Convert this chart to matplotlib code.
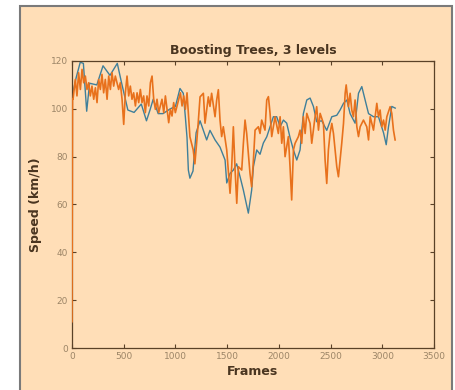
import matplotlib
matplotlib.use("Agg")
import matplotlib.pyplot as plt
from matplotlib.patches import Rectangle

# Ground truth (blue)
gt_frames = [0, 10, 40, 80, 110, 142, 170, 240, 300, 367, 438, 480, 540, 600, 670, 720, 754, 785,
             833, 880, 950, 1000, 1044, 1076, 1096, 1112, 1125, 1140, 1170, 1186, 1200, 1238, 1302,
             1334, 1383, 1431, 1480, 1496, 1528, 1560, 1592, 1625, 1657, 1705, 1737, 1754, 1786,
             1818, 1850, 1883, 1915, 1947, 1979, 2012, 2044, 2076, 2108, 2141, 2173, 2205, 2237,
             2270, 2302, 2334, 2366, 2415, 2463, 2512, 2560, 2592, 2625, 2657, 2689, 2737, 2770,
             2802, 2834, 2867, 2915, 2963, 3012, 3038, 3060, 3092, 3125]
gt_speed = [104, 107, 113, 119.5, 119, 99, 110.7, 110, 118, 114, 119, 110.7, 99.5, 98.5, 102, 95,
            99.5, 104, 98, 98, 100, 101, 108.5, 106.5, 96.6, 88, 74.4, 71, 74, 82.8, 90, 95, 87,
            91, 87, 84, 78.6, 69, 73, 74.4, 77, 71.6, 66, 56.4, 66, 75.8, 82.8, 81, 85.7, 88.3,
            92.5, 96.7, 96.7, 92.5, 95.3, 94, 88, 82.8, 78.6, 82.8, 98, 103.7, 104.5, 101, 94.6,
            95, 91, 96.7, 97.3, 99.5, 102.3, 103.7, 98, 94, 106.5, 109.3, 103.7, 98, 96.7, 96.7,
            90, 85, 92.5, 101, 100.3]

# Prediction (orange)
pred_frames = [0, 5, 10, 32, 48, 64, 81, 97, 113, 129, 145, 161, 177, 193, 210, 226, 242, 258,
               274, 290, 306, 322, 339, 355, 371, 387, 403, 419, 451, 467, 484, 500, 516, 532,
               548, 564, 580, 596, 613, 629, 645, 661, 677, 693, 709, 725, 742, 758, 774, 790,
               806, 822, 838, 854, 870, 887, 903, 919, 935, 951, 967, 983, 999, 1016, 1032, 1048,
               1064, 1080, 1096, 1112,
               1140, 1172, 1188, 1205, 1220, 1238, 1270, 1286, 1318, 1334, 1350, 1383, 1399,
               1415, 1431, 1447, 1463, 1496, 1528, 1544, 1560, 1577, 1593, 1609, 1641, 1657,
               1673, 1689, 1705, 1721, 1737, 1754, 1770, 1802, 1818, 1834, 1866, 1883, 1899,
               1915, 1931, 1947, 1963, 1995, 2012, 2028, 2044, 2060, 2092, 2108, 2124, 2141,
               2157, 2189, 2205, 2221, 2237, 2254, 2270, 2302, 2318, 2350, 2366, 2383, 2399,
               2431, 2447, 2463, 2479, 2495, 2512, 2528, 2544, 2560, 2576, 2592, 2608, 2625,
               2641, 2651, 2673, 2689, 2705, 2721, 2737, 2754, 2770, 2786, 2818, 2850, 2867,
               2883, 2915, 2947, 2963, 2979, 2995, 3012, 3028, 3044, 3076, 3092, 3108, 3124]
pred_speed = [11, 104, 104, 112.3, 105.4, 115.1, 108.1, 116.5, 110.9, 113.7, 108.1, 110.9, 105.4,
              109.5, 104, 108.8, 102.6, 112.3, 108.1, 114.4, 106.7, 112.3, 104, 113.7, 108.1,
              115.1, 109.5, 113.7, 108.1, 110.9, 104, 93.5, 106.7, 113.7, 105.4, 109.5, 104,
              106.7, 101.2, 106.7, 102.6, 108.1, 102.6, 105.4, 98.4, 105.4, 101.2, 110.9, 113.7,
              104, 99.8, 104, 98.4, 101.2, 104, 98.4, 105.4, 99.8, 94.2, 99.8, 97, 102.6, 98.4,
              101.2, 104, 106.7, 101.2, 105.4, 99.8, 106.7,
              88.3, 82.8, 77, 85.7, 94, 105, 106.5, 94, 105,
              101, 106.5, 96.7, 103.7, 108, 95.3, 88.4, 92.5, 82.8, 64.7, 75.8, 92.5, 74.4, 60.5,
              75.8, 74.4, 85.6, 95.3, 89.7, 81.4, 73, 67.4, 78.6, 91.1, 92.5, 89.7, 95.3, 91.1,
              103.7, 105.1, 98.1, 88.4, 92.5, 96.7, 89.7, 96.7, 85.6, 92.5, 80, 88.4, 75.8, 61.9,
              82.8, 85.6, 88.4, 91.1, 85.6, 96.7, 89.7, 98.1, 93.9, 85.6, 96.7, 100.9, 91.1, 98.1,
              93.9, 78.6, 68.8, 82.8, 89.7, 93.9, 89.7, 82.8, 75.8, 71.6, 78.6, 85.6, 93.9, 106.5,
              110, 100.9, 106.5, 99.5, 96.7, 103.7, 92.5, 88.4, 92.5, 95.3, 92.5, 87, 96.7, 91.1,
              102.3, 96.7, 99.5, 92.5, 95.3, 91.1, 96.7, 100.9, 98.1, 91.1, 87]

x_ticks = [0, 500, 1000, 1500, 2000, 2500, 3000, 3500]
y_ticks = [0, 20, 40, 60, 80, 100, 120]

PEACH = "#FFDEB7"
BROWN = "#5a4127"
TICKC = "#9c8567"

fig = plt.figure(figsize=(4.56, 3.90), dpi=100, facecolor="white")
bg = fig.add_axes([0, 0, 1, 1], zorder=-5)
bg.set_axis_off()
bg.set_xlim(0, 456)
bg.set_ylim(390, 0)
bg.add_patch(Rectangle((20, 6), 432, 390, facecolor=PEACH, edgecolor="#7a7a7a", linewidth=1.5))

ax = fig.add_axes([72 / 456, 42 / 390, (434 - 72) / 456, (348 - 61) / 390], zorder=1)
ax.set_facecolor(PEACH)
ax.plot(gt_frames, gt_speed, color="#3f7f9a", linewidth=1.0, zorder=2)
ax.plot(pred_frames, pred_speed, color="#e8711c", linewidth=1.2, zorder=3)

ax.set_xlim(0, 3500)
ax.set_ylim(0, 120)
ax.set_xticks(x_ticks)
ax.set_yticks(y_ticks)
ax.tick_params(direction="in", length=3, width=0.8, colors=BROWN, labelcolor=TICKC,
               labelsize=6.5, top=True, right=True, pad=3)
for s in ax.spines.values():
    s.set_color(BROWN)
    s.set_linewidth(0.9)

ax.set_title("Boosting Trees, 3 levels", fontsize=9, fontweight="bold", color="#4a3520", pad=5)
ax.set_xlabel("Frames", fontsize=9, fontweight="bold", color="#4a3520", labelpad=3)
ax.set_ylabel("Speed (km/h)", fontsize=9, fontweight="bold", color="#4a3520", labelpad=6)

fig.savefig("out.png", dpi=100, facecolor="white")
